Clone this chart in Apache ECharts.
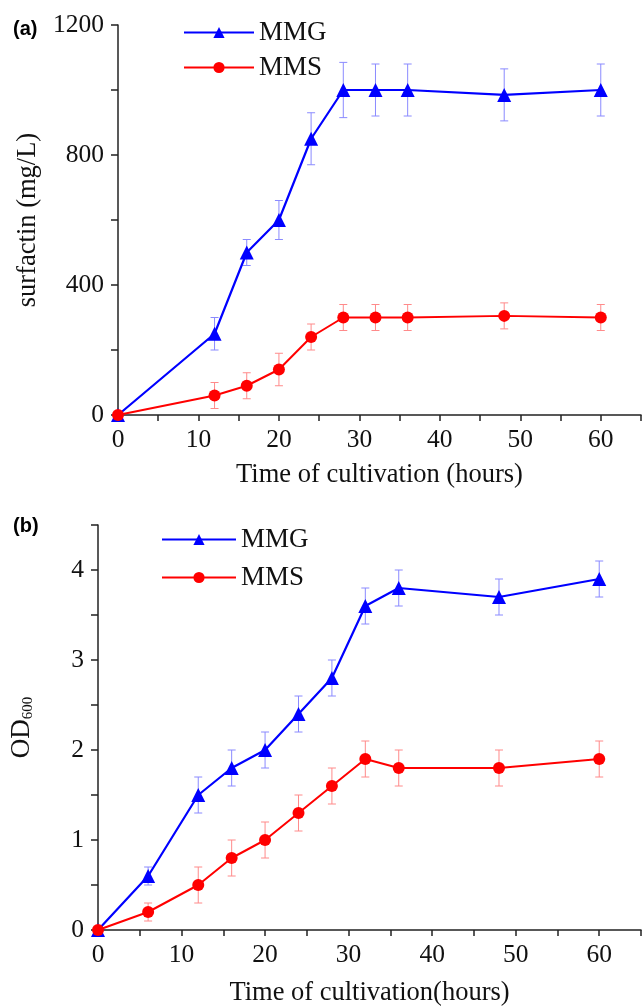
<!DOCTYPE html>
<html>
<head>
<meta charset="utf-8">
<script src="https://cdn.jsdelivr.net/npm/echarts@6/dist/echarts.min.js"></script>
<style>
  html, body { margin: 0; padding: 0; background: #fff; }
  #main { width: 644px; height: 1008px; }
</style>
</head>
<body>
<div id="main"></div>
<script>
// panel (a): surfactin
var timeA = [0, 12, 16, 20, 24, 28, 32, 36, 48, 60];
var mmgA = [0, 250, 500, 600, 850, 1000, 1000, 1000, 985, 1000];
var mmgErrA = [0, 50, 40, 60, 80, 85, 80, 80, 80, 80];
var mmsA = [0, 60, 90, 140, 240, 300, 300, 300, 305, 300];
var mmsErrA = [0, 40, 40, 50, 40, 40, 40, 40, 40, 40];

// panel (b): OD600
var timeB = [0, 6, 12, 16, 20, 24, 28, 32, 36, 48, 60];
var mmgB = [0, 0.6, 1.5, 1.8, 2.0, 2.4, 2.8, 3.6, 3.8, 3.7, 3.9];
var mmgErrB = [0, 0.1, 0.2, 0.2, 0.2, 0.2, 0.2, 0.2, 0.2, 0.2, 0.2];
var mmsB = [0, 0.2, 0.5, 0.8, 1.0, 1.3, 1.6, 1.9, 1.8, 1.8, 1.9];
var mmsErrB = [0, 0.1, 0.2, 0.2, 0.2, 0.2, 0.2, 0.2, 0.2, 0.2, 0.2];

var xTicksA = [0, 10, 20, 30, 40, 50, 60];
var yTicksA = [0, 400, 800, 1200];
var xTicksB = [0, 10, 20, 30, 40, 50, 60];
var yTicksB = [0, 1, 2, 3, 4];

var serif = 'Liberation Serif';
var blue = '#0000ff', red = '#ff0000';

function pairs(xs, ys) {
    var out = [];
    for (var i = 0; i < xs.length; i++) out.push([xs[i], ys[i]]);
    return out;
}
function errs(xs, ys, es) {
    var out = [];
    for (var i = 0; i < xs.length; i++) {
        if (es[i] > 0) out.push([xs[i], ys[i] - es[i], ys[i] + es[i]]);
    }
    return out;
}
function errRender(color) {
    return function (params, api) {
        var lo = api.coord([api.value(0), api.value(1)]);
        var hi = api.coord([api.value(0), api.value(2)]);
        var w = 4;
        var st = { stroke: color, lineWidth: 1 };
        return {
            type: 'group',
            children: [
                { type: 'line', shape: { x1: lo[0], y1: lo[1], x2: hi[0], y2: hi[1] }, style: st },
                { type: 'line', shape: { x1: lo[0] - w, y1: lo[1], x2: lo[0] + w, y2: lo[1] }, style: st },
                { type: 'line', shape: { x1: hi[0] - w, y1: hi[1], x2: hi[0] + w, y2: hi[1] }, style: st }
            ]
        };
    };
}

function xAxisCfg(idx, name, ticks, gap) {
    return {
        type: 'value', gridIndex: idx, min: 0, max: 65, interval: 5,
        name: name, nameLocation: 'middle', nameGap: gap,
        nameTextStyle: { fontFamily: serif, fontSize: 26.5, color: '#111' },
        axisLine: { show: true, onZero: false, lineStyle: { color: '#222', width: 1.5 } },
        axisTick: { show: true, length: 6, lineStyle: { color: '#222', width: 1.5 } },
        axisLabel: { fontFamily: serif, fontSize: 25.5, color: '#111', margin: 12,
            formatter: function (v) { return ticks.indexOf(v) >= 0 ? String(v) : ''; } },
        splitLine: { show: false }
    };
}

var chart = echarts.init(document.getElementById('main'));
var option = {
    backgroundColor: '#fff',
    animation: false,
    title: [
        { text: '(a)', left: 8, top: 14, textStyle: { fontFamily: 'Liberation Sans', fontWeight: 'bold', fontSize: 20, color: '#000' } },
        { text: '(b)', left: 8, top: 511, textStyle: { fontFamily: 'Liberation Sans', fontWeight: 'bold', fontSize: 20, color: '#000' } }
    ],
    legend: [
        { data: ['MMG', 'MMS'], orient: 'vertical', left: 178, top: 14, itemWidth: 70, itemHeight: 14, itemGap: 8,
          textStyle: { fontFamily: serif, fontSize: 27, color: '#111' } },
        { data: ['MMG', 'MMS'], orient: 'vertical', left: 156, top: 521, itemWidth: 74, itemHeight: 14, itemGap: 11,
          textStyle: { fontFamily: serif, fontSize: 27, color: '#111' } }
    ],
    grid: [
        { left: 118, right: 0, top: 25, bottom: 593 },
        { left: 92, right: 0, top: 525, bottom: 75 }
    ],
    xAxis: [
        xAxisCfg(0, 'Time of cultivation (hours)', xTicksA, 47),
        xAxisCfg(1, 'Time of cultivation(hours)', xTicksB, 50)
    ],
    yAxis: [
        {
            type: 'value', gridIndex: 0, min: 0, max: 1200, interval: 200,
            name: 'surfactin (mg/L)', nameLocation: 'middle', nameGap: 76,
            nameTextStyle: { fontFamily: serif, fontSize: 26.5, color: '#111' },
            axisLine: { show: true, lineStyle: { color: '#222', width: 1.5 } },
            axisTick: { show: true, length: 7, lineStyle: { color: '#222', width: 1.5 } },
            axisLabel: { fontFamily: serif, fontSize: 25.5, color: '#111', margin: 14,
                formatter: function (v) { return yTicksA.indexOf(v) >= 0 ? String(v) : ''; } },
            splitLine: { show: false }
        },
        {
            type: 'value', gridIndex: 1, min: 0, max: 4.5, interval: 0.5,
            name: 'OD{sub|600}', nameLocation: 'middle', nameGap: 62,
            nameTextStyle: { fontFamily: serif, fontSize: 27, color: '#111',
                rich: { sub: { fontFamily: serif, fontSize: 15, color: '#111', verticalAlign: 'bottom', padding: [14, 0, 0, 0] } } },
            axisLine: { show: true, lineStyle: { color: '#222', width: 1.5 } },
            axisTick: { show: true, length: 7, lineStyle: { color: '#222', width: 1.5 } },
            axisLabel: { fontFamily: serif, fontSize: 25.5, color: '#111', margin: 14,
                formatter: function (v) { return yTicksB.indexOf(v) >= 0 ? String(v) : ''; } },
            splitLine: { show: false }
        }
    ],
    series: [
        { name: 'errMMGa', type: 'custom', xAxisIndex: 0, yAxisIndex: 0, renderItem: errRender('#8a8aff'),
          data: errs(timeA, mmgA, mmgErrA), z: 1 },
        { name: 'errMMSa', type: 'custom', xAxisIndex: 0, yAxisIndex: 0, renderItem: errRender('#ff8a8a'),
          data: errs(timeA, mmsA, mmsErrA), z: 1 },
        { name: 'errMMGb', type: 'custom', xAxisIndex: 1, yAxisIndex: 1, renderItem: errRender('#8a8aff'),
          data: errs(timeB, mmgB, mmgErrB), z: 1 },
        { name: 'errMMSb', type: 'custom', xAxisIndex: 1, yAxisIndex: 1, renderItem: errRender('#ff8a8a'),
          data: errs(timeB, mmsB, mmsErrB), z: 1 },
        { name: 'MMG', type: 'line', xAxisIndex: 0, yAxisIndex: 0, data: pairs(timeA, mmgA),
          symbol: 'triangle', symbolSize: 14, color: blue, lineStyle: { width: 2.2, color: blue }, z: 3 },
        { name: 'MMS', type: 'line', xAxisIndex: 0, yAxisIndex: 0, data: pairs(timeA, mmsA),
          symbol: 'circle', symbolSize: 12, color: red, lineStyle: { width: 2, color: red }, z: 3 },
        { name: 'MMG', type: 'line', xAxisIndex: 1, yAxisIndex: 1, data: pairs(timeB, mmgB),
          symbol: 'triangle', symbolSize: 14, color: blue, lineStyle: { width: 2.2, color: blue }, z: 3 },
        { name: 'MMS', type: 'line', xAxisIndex: 1, yAxisIndex: 1, data: pairs(timeB, mmsB),
          symbol: 'circle', symbolSize: 12, color: red, lineStyle: { width: 2, color: red }, z: 3 }
    ]
};
chart.setOption(option);
</script>
</body>
</html>
